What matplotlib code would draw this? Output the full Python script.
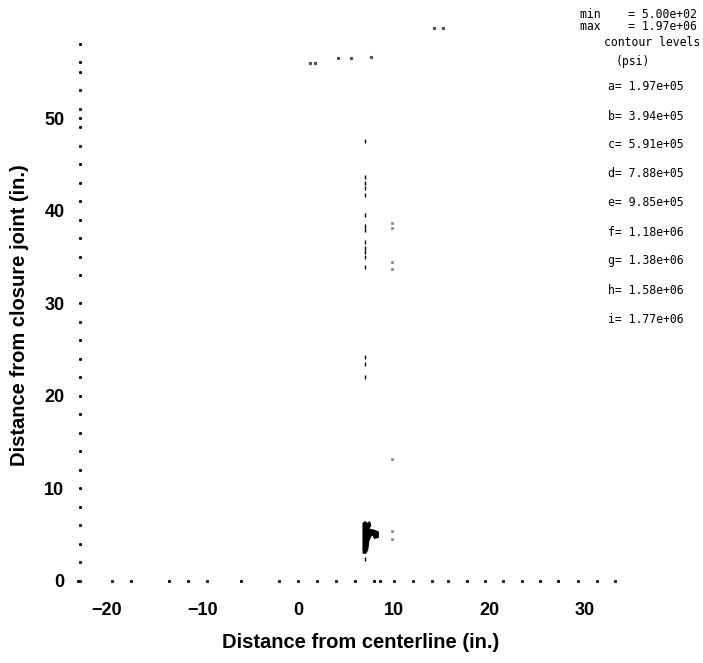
import matplotlib
matplotlib.use('Agg')
import matplotlib.pyplot as plt

# stress range and contour levels (psi)
stress_min = 5.00e2
stress_max = 1.97e6
level_names = ['a', 'b', 'c', 'd', 'e', 'f', 'g', 'h', 'i']
level_vals = [1.97e5, 3.94e5, 5.91e5, 7.88e5, 9.85e5, 1.18e6, 1.38e6, 1.58e6, 1.77e6]

# mesh nodes along the left edge (x = -22.8 in.)
left_x = -22.8
left_y = [0, 2, 4, 6, 8, 10, 12, 14, 16, 18, 20, 22, 24, 26, 28, 30,
          33, 35, 37, 39, 41, 43, 45, 47, 49, 50, 51, 53, 55, 56, 58]

# mesh nodes along the bottom edge (y = 0)
bottom_y = 0.0
bottom_x = [-23, -19.5, -17.5, -13.5, -11.5, -9.5, -6, -2, 0, 2, 4, 6, 8,
            8.6, 10, 12, 14, 15.7, 17.7, 19.6, 21.4, 23.4, 25.3, 27.2,
            29.3, 31.3, 33.2]

# traces along x = 7 in.
col1_x = 7.0
col1_y = [47.5, 43.6, 43.0, 42.4, 41.7, 39.5, 38.3, 37.9, 36.6, 36.0, 35.5,
          35.0, 33.9, 24.2, 23.4, 22.0, 2.4]

# faint traces along x = 9.8 in.
col2_x = 9.8
col2_y = [38.7, 38.1, 34.4, 33.7, 13.2, 5.4, 4.5]

# stray marks near the top
top_x = [1.3, 1.8, 4.2, 5.5, 7.6, 14.2, 15.2]
top_y = [55.9, 55.9, 56.5, 56.5, 56.6, 59.7, 59.7]

# highest stress zone near the closure joint
zone_x = [6.8, 6.8, 7.0, 7.3, 7.5, 7.6, 7.4, 7.9, 8.4, 8.4, 8.0, 7.8, 7.6,
          7.4, 7.3, 7.1]
zone_y = [3.0, 6.2, 6.4, 6.2, 6.4, 6.0, 5.6, 5.5, 5.3, 4.7, 4.6, 5.0, 4.8,
          4.3, 3.4, 3.0]

plt.rcParams['font.family'] = ['Liberation Sans', 'DejaVu Sans']

fig = plt.figure(figsize=(7.03, 6.63), dpi=100)
ax = fig.add_axes([0.0976, 0.1112, 0.8294, 0.8784])

ax.plot([left_x] * len(left_y), left_y, 's', color='k', markersize=1.1)
ax.plot(bottom_x, [bottom_y] * len(bottom_x), 's', color='k', markersize=1.1)
ax.plot([col1_x] * len(col1_y), col1_y, '|', color='k', markersize=3.5,
        markeredgewidth=1.0)
ax.plot([col2_x] * len(col2_y), col2_y, 's', color='0.55', markersize=1.1)
ax.plot(top_x, top_y, 's', color='0.3', markersize=1.3)
ax.fill(zone_x, zone_y, color='k', lw=0.8)

ax.set_xlim(-24, 37)
ax.set_ylim(-0.9, 62)
ax.set_xticks([-20, -10, 0, 10, 20, 30])
ax.set_yticks([0, 10, 20, 30, 40, 50])
for s in ax.spines.values():
    s.set_visible(False)
ax.tick_params(length=0, labelsize=13)
ax.tick_params(axis='x', pad=9)
ax.tick_params(axis='y', pad=3)
for lab in ax.get_xticklabels() + ax.get_yticklabels():
    lab.set_fontweight('bold')

ax.set_xlabel('Distance from centerline (in.)', fontsize=14.5, fontweight='bold')
ax.set_ylabel('Distance from closure joint (in.)', fontsize=14.5, fontweight='bold')
ax.xaxis.set_label_coords(0.5, -0.075)
ax.yaxis.set_label_coords(-0.068, 0.47)

# contour level key in the top right corner
mono = dict(family='DejaVu Sans Mono', fontsize=8.3, color='k')
fig.text(697 / 703, 1 - 14 / 663, 'min    = %.2e' % stress_min, ha='right', va='center', **mono)
fig.text(697 / 703, 1 - 27 / 663, 'max    = %.2e' % stress_max, ha='right', va='center', **mono)
fig.text(652 / 703, 1 - 42 / 663, 'contour levels', ha='center', va='center', **mono)
fig.text(633 / 703, 1 - 62 / 663, '(psi)', ha='center', va='center', **mono)
for k, (name, val) in enumerate(zip(level_names, level_vals)):
    fig.text(684 / 703, 1 - (87 + 29 * k) / 663, '%s= %.2e' % (name, val),
             ha='right', va='center', **mono)

fig.savefig('out.png', dpi=100)
